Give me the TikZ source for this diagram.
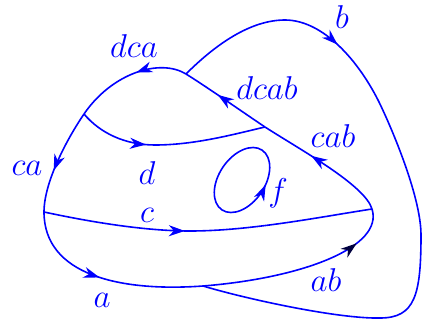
\documentclass[tikz,border=0pt]{standalone}
\usepackage{fix-cm}
\usetikzlibrary{arrows.meta,decorations.markings}
\begin{document}
\begin{tikzpicture}[x=1pt,y=-1pt,
  edge/.style={blue, line width=1.6pt},
  arrowat/.style={postaction={decorate,decoration={markings,
      mark=at position #1 with {\arrow{Stealth[length=16pt,width=11pt,inset=5pt]}}}}},
  darkarrowat/.style={postaction={decorate,decoration={markings,
      mark=at position #1 with {\arrow[blue!25!black]{Stealth[length=16pt,width=11pt,inset=5pt]}}}}},
  lbl/.style={text=blue, inner sep=0pt, font=\fontsize{33}{40}\selectfont}]
\useasboundingbox (0,0) rectangle (422,321);
% junctions
\coordinate (L) at (44,212);
\coordinate (B) at (203,286);
\coordinate (R) at (372,209);
\coordinate (Dr) at (265,127);
\coordinate (T) at (186,74);
\coordinate (Dl) at (84,114);
\coordinate (F) at (242,180);
% main loop
\draw[edge, arrowat=0.47] (L) .. controls (44,275) and (120,292) .. (B);
\draw[edge, darkarrowat=0.8] (B) .. controls (303,278) and (384,247) .. (R);
\draw[edge, arrowat=0.6] (R) .. controls (365,185) and (299,149) .. (Dr);
\draw[edge, arrowat=0.6] (Dr) .. controls (244,113) and (207,87) .. (T);
\draw[edge, arrowat=0.43] (T) .. controls (160,58) and (112,73) .. (Dl);
\draw[edge, arrowat=0.6] (Dl) .. controls (67,139) and (44,182) .. (L);
% chords
\draw[edge, arrowat=0.43] (L) .. controls (100,224) and (150,231) .. (190,231)
   .. controls (250,231) and (320,217) .. (R);
\draw[edge, arrowat=0.37] (Dl) .. controls (100,133) and (125,145) .. (155,145)
   .. controls (195,145) and (235,134) .. (Dr);
\draw[edge, arrowat=0.26] (T) .. controls (215,45) and (250,20) .. (285,20)
   .. controls (320,20) and (355,55) .. (378,100)
   .. controls (389,122) and (421,195) .. (421,235)
   .. controls (421,295) and (415,318) .. (380,318)
   .. controls (340,319) and (250,300) .. (B);
% small loop
\draw[edge, arrowat=0.8, rotate around={56:(F)}] (F) ellipse [x radius=36pt, y radius=23pt];
% labels
\node[lbl] (ldca) at (134,46) {$dca$};
\node[lbl] (lb) at (342,17) {$b$};
\node[lbl] (ldcab) at (267,88) {$dcab$};
\node[lbl] (lcab) at (333,136) {$cab$};
\node[lbl] (lca) at (27,168) {$ca$};
\node[lbl] (ld) at (147,173) {$d$};
\node[lbl] (lc) at (147,215) {$c$};
\node[lbl] (la) at (102,300) {$a$};
\node[lbl] (lf) at (278,193) {$f$};
\node[lbl] (lab) at (326,280) {$ab$};
\end{tikzpicture}
\end{document}
